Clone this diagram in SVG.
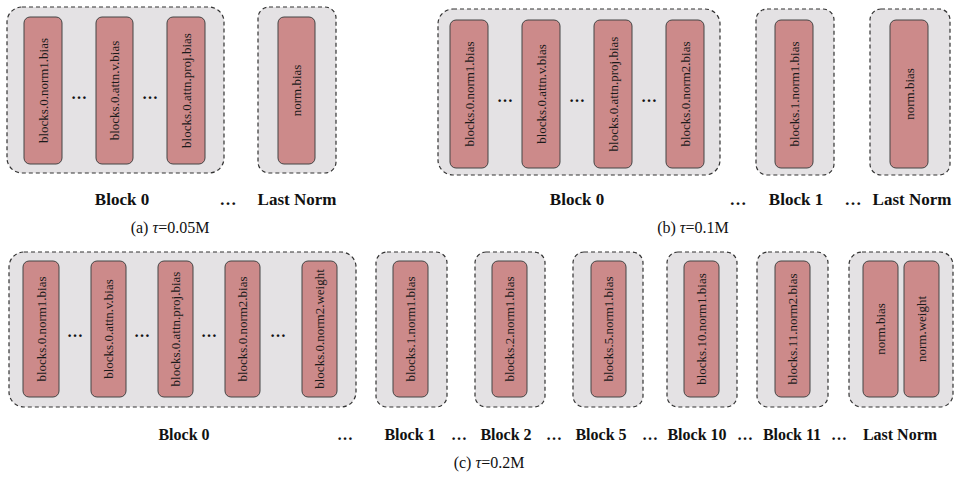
<svg xmlns="http://www.w3.org/2000/svg" width="961" height="480" viewBox="0 0 961 480">
<style>
.outer{fill:#e4e2e4;stroke:#333;stroke-width:1.2;stroke-dasharray:4 3}
.inner{fill:#cc8a8a;stroke:#444;stroke-width:1}
.vt{font-family:"Liberation Serif",serif;font-size:13px;fill:#1a1a1a;text-anchor:middle;dominant-baseline:central}
.lbl{font-family:"Liberation Serif",serif;font-size:17px;font-weight:bold;fill:#111;text-anchor:middle}
.lbl16{font-family:"Liberation Serif",serif;font-size:16px;font-weight:bold;fill:#111;text-anchor:middle}
.dots{font-family:"Liberation Serif",serif;font-size:16px;font-weight:bold;fill:#111;text-anchor:middle}
.cap{font-family:"Liberation Serif",serif;font-size:16px;fill:#111;text-anchor:middle}
</style>
<rect width="961" height="480" fill="#fff"/>
<g id="connectors"/>

<!-- Panel (a) -->
<g id="a-block0">
<rect class="outer" x="7" y="7" width="217" height="166" rx="15"/>
<rect class="inner" x="24" y="17" width="38" height="147" rx="6"/>
<text class="vt" transform="translate(43,90.5) rotate(-90)">blocks.0.norm1.bias</text>
<rect class="inner" x="96" y="17" width="37" height="147" rx="6"/>
<text class="vt" transform="translate(114.5,90.5) rotate(-90)">blocks.0.attn.v.bias</text>
<rect class="inner" x="167" y="17" width="38" height="147" rx="6"/>
<text class="vt" transform="translate(186,90.5) rotate(-90)">blocks.0.attn.proj.bias</text>
<text class="dots" x="79" y="99">…</text>
<text class="dots" x="150" y="99">…</text>
</g>
<g id="a-lastnorm">
<rect class="outer" x="258" y="7" width="78" height="166" rx="11"/>
<rect class="inner" x="278" y="17" width="37" height="147" rx="6"/>
<text class="vt" transform="translate(296.5,90.5) rotate(-90)">norm.bias</text>
</g>
<g id="a-labels">
<text class="lbl" x="122" y="205">Block 0</text>
<text class="lbl" x="228" y="205">…</text>
<text class="lbl" x="297" y="205">Last Norm</text>
<text class="cap" x="170" y="233">(a) <tspan font-style="italic">τ</tspan>=0.05M</text>
</g>

<!-- Panel (b) -->
<g id="b-block0">
<rect class="outer" x="438" y="9" width="282" height="166" rx="15"/>
<rect class="inner" x="450" y="20" width="38" height="148" rx="6"/>
<text class="vt" transform="translate(469,94) rotate(-90)">blocks.0.norm1.bias</text>
<rect class="inner" x="522" y="20" width="38" height="148" rx="6"/>
<text class="vt" transform="translate(541,94) rotate(-90)">blocks.0.attn.v.bias</text>
<rect class="inner" x="594" y="20" width="38" height="148" rx="6"/>
<text class="vt" transform="translate(613,94) rotate(-90)">blocks.0.attn.proj.bias</text>
<rect class="inner" x="666" y="20" width="38" height="148" rx="6"/>
<text class="vt" transform="translate(685,94) rotate(-90)">blocks.0.norm2.bias</text>
<text class="dots" x="505" y="102">…</text>
<text class="dots" x="577" y="102">…</text>
<text class="dots" x="649" y="102">…</text>
</g>
<g id="b-block1">
<rect class="outer" x="756" y="9" width="78" height="166" rx="11"/>
<rect class="inner" x="775" y="20" width="38" height="148" rx="6"/>
<text class="vt" transform="translate(794,94) rotate(-90)">blocks.1.norm1.bias</text>
</g>
<g id="b-lastnorm">
<rect class="outer" x="870" y="9" width="80" height="166" rx="11"/>
<rect class="inner" x="890" y="20" width="38" height="148" rx="6"/>
<text class="vt" transform="translate(909,94) rotate(-90)">norm.bias</text>
</g>
<g id="b-labels">
<text class="lbl" x="577" y="205">Block 0</text>
<text class="lbl" x="738" y="205">…</text>
<text class="lbl" x="796" y="205">Block 1</text>
<text class="lbl" x="853" y="205">…</text>
<text class="lbl" x="912" y="205">Last Norm</text>
<text class="cap" x="693" y="233">(b) <tspan font-style="italic">τ</tspan>=0.1M</text>
</g>

<!-- Panel (c) -->
<g id="c-block0">
<rect class="outer" x="9" y="252" width="347" height="155" rx="15"/>
<rect class="inner" x="23" y="261" width="36" height="136" rx="6"/>
<text class="vt" transform="translate(41,329) rotate(-90)">blocks.0.norm1.bias</text>
<rect class="inner" x="91" y="261" width="35" height="136" rx="6"/>
<text class="vt" transform="translate(108.5,329) rotate(-90)">blocks.0.attn.v.bias</text>
<rect class="inner" x="158" y="261" width="35" height="136" rx="6"/>
<text class="vt" transform="translate(175.5,329) rotate(-90)">blocks.0.attn.proj.bias</text>
<rect class="inner" x="225" y="261" width="35" height="136" rx="6"/>
<text class="vt" transform="translate(242.5,329) rotate(-90)">blocks.0.norm2.bias</text>
<rect class="inner" x="302" y="261" width="35" height="136" rx="6"/>
<text class="vt" transform="translate(319.5,329) rotate(-90)">blocks.0.norm2.weight</text>
<text class="dots" x="75" y="337">…</text>
<text class="dots" x="142" y="337">…</text>
<text class="dots" x="209" y="337">…</text>
<text class="dots" x="278" y="337">…</text>
</g>
<g id="c-block1">
<rect class="outer" x="376" y="252" width="71" height="155" rx="11"/>
<rect class="inner" x="393" y="261" width="35" height="136" rx="6"/>
<text class="vt" transform="translate(410.5,329) rotate(-90)">blocks.1.norm1.bias</text>
</g>
<g id="c-block2">
<rect class="outer" x="475" y="252" width="70" height="155" rx="11"/>
<rect class="inner" x="492" y="261" width="35" height="136" rx="6"/>
<text class="vt" transform="translate(509.5,329) rotate(-90)">blocks.2.norm1.bias</text>
</g>
<g id="c-block5">
<rect class="outer" x="573" y="252" width="70" height="155" rx="11"/>
<rect class="inner" x="591" y="261" width="35" height="136" rx="6"/>
<text class="vt" transform="translate(608.5,329) rotate(-90)">blocks.5.norm1.bias</text>
</g>
<g id="c-block10">
<rect class="outer" x="667" y="252" width="70" height="155" rx="11"/>
<rect class="inner" x="684" y="261" width="35" height="136" rx="6"/>
<text class="vt" transform="translate(701.5,329) rotate(-90)">blocks.10.norm1.bias</text>
</g>
<g id="c-block11">
<rect class="outer" x="757" y="252" width="71" height="155" rx="11"/>
<rect class="inner" x="775" y="261" width="35" height="136" rx="6"/>
<text class="vt" transform="translate(792.5,329) rotate(-90)">blocks.11.norm2.bias</text>
</g>
<g id="c-lastnorm">
<rect class="outer" x="849" y="252" width="104" height="155" rx="13"/>
<rect class="inner" x="863" y="261" width="35" height="136" rx="6"/>
<text class="vt" transform="translate(880.5,329) rotate(-90)">norm.bias</text>
<rect class="inner" x="904" y="261" width="35" height="136" rx="6"/>
<text class="vt" transform="translate(921.5,329) rotate(-90)">norm.weight</text>
</g>
<g id="c-labels">
<text class="lbl16" x="184" y="440">Block 0</text>
<text class="lbl16" x="345" y="440">…</text>
<text class="lbl16" x="410" y="440">Block 1</text>
<text class="lbl16" x="459" y="440">…</text>
<text class="lbl16" x="506" y="440">Block 2</text>
<text class="lbl16" x="554" y="440">…</text>
<text class="lbl16" x="601" y="440">Block 5</text>
<text class="lbl16" x="650" y="440">…</text>
<text class="lbl16" x="697" y="440">Block 10</text>
<text class="lbl16" x="745" y="440">…</text>
<text class="lbl16" x="792" y="440">Block 11</text>
<text class="lbl16" x="839" y="440">…</text>
<text class="lbl16" x="900" y="440">Last Norm</text>
<text class="cap" x="489" y="468">(c) <tspan font-style="italic">τ</tspan>=0.2M</text>
</g>
</svg>
